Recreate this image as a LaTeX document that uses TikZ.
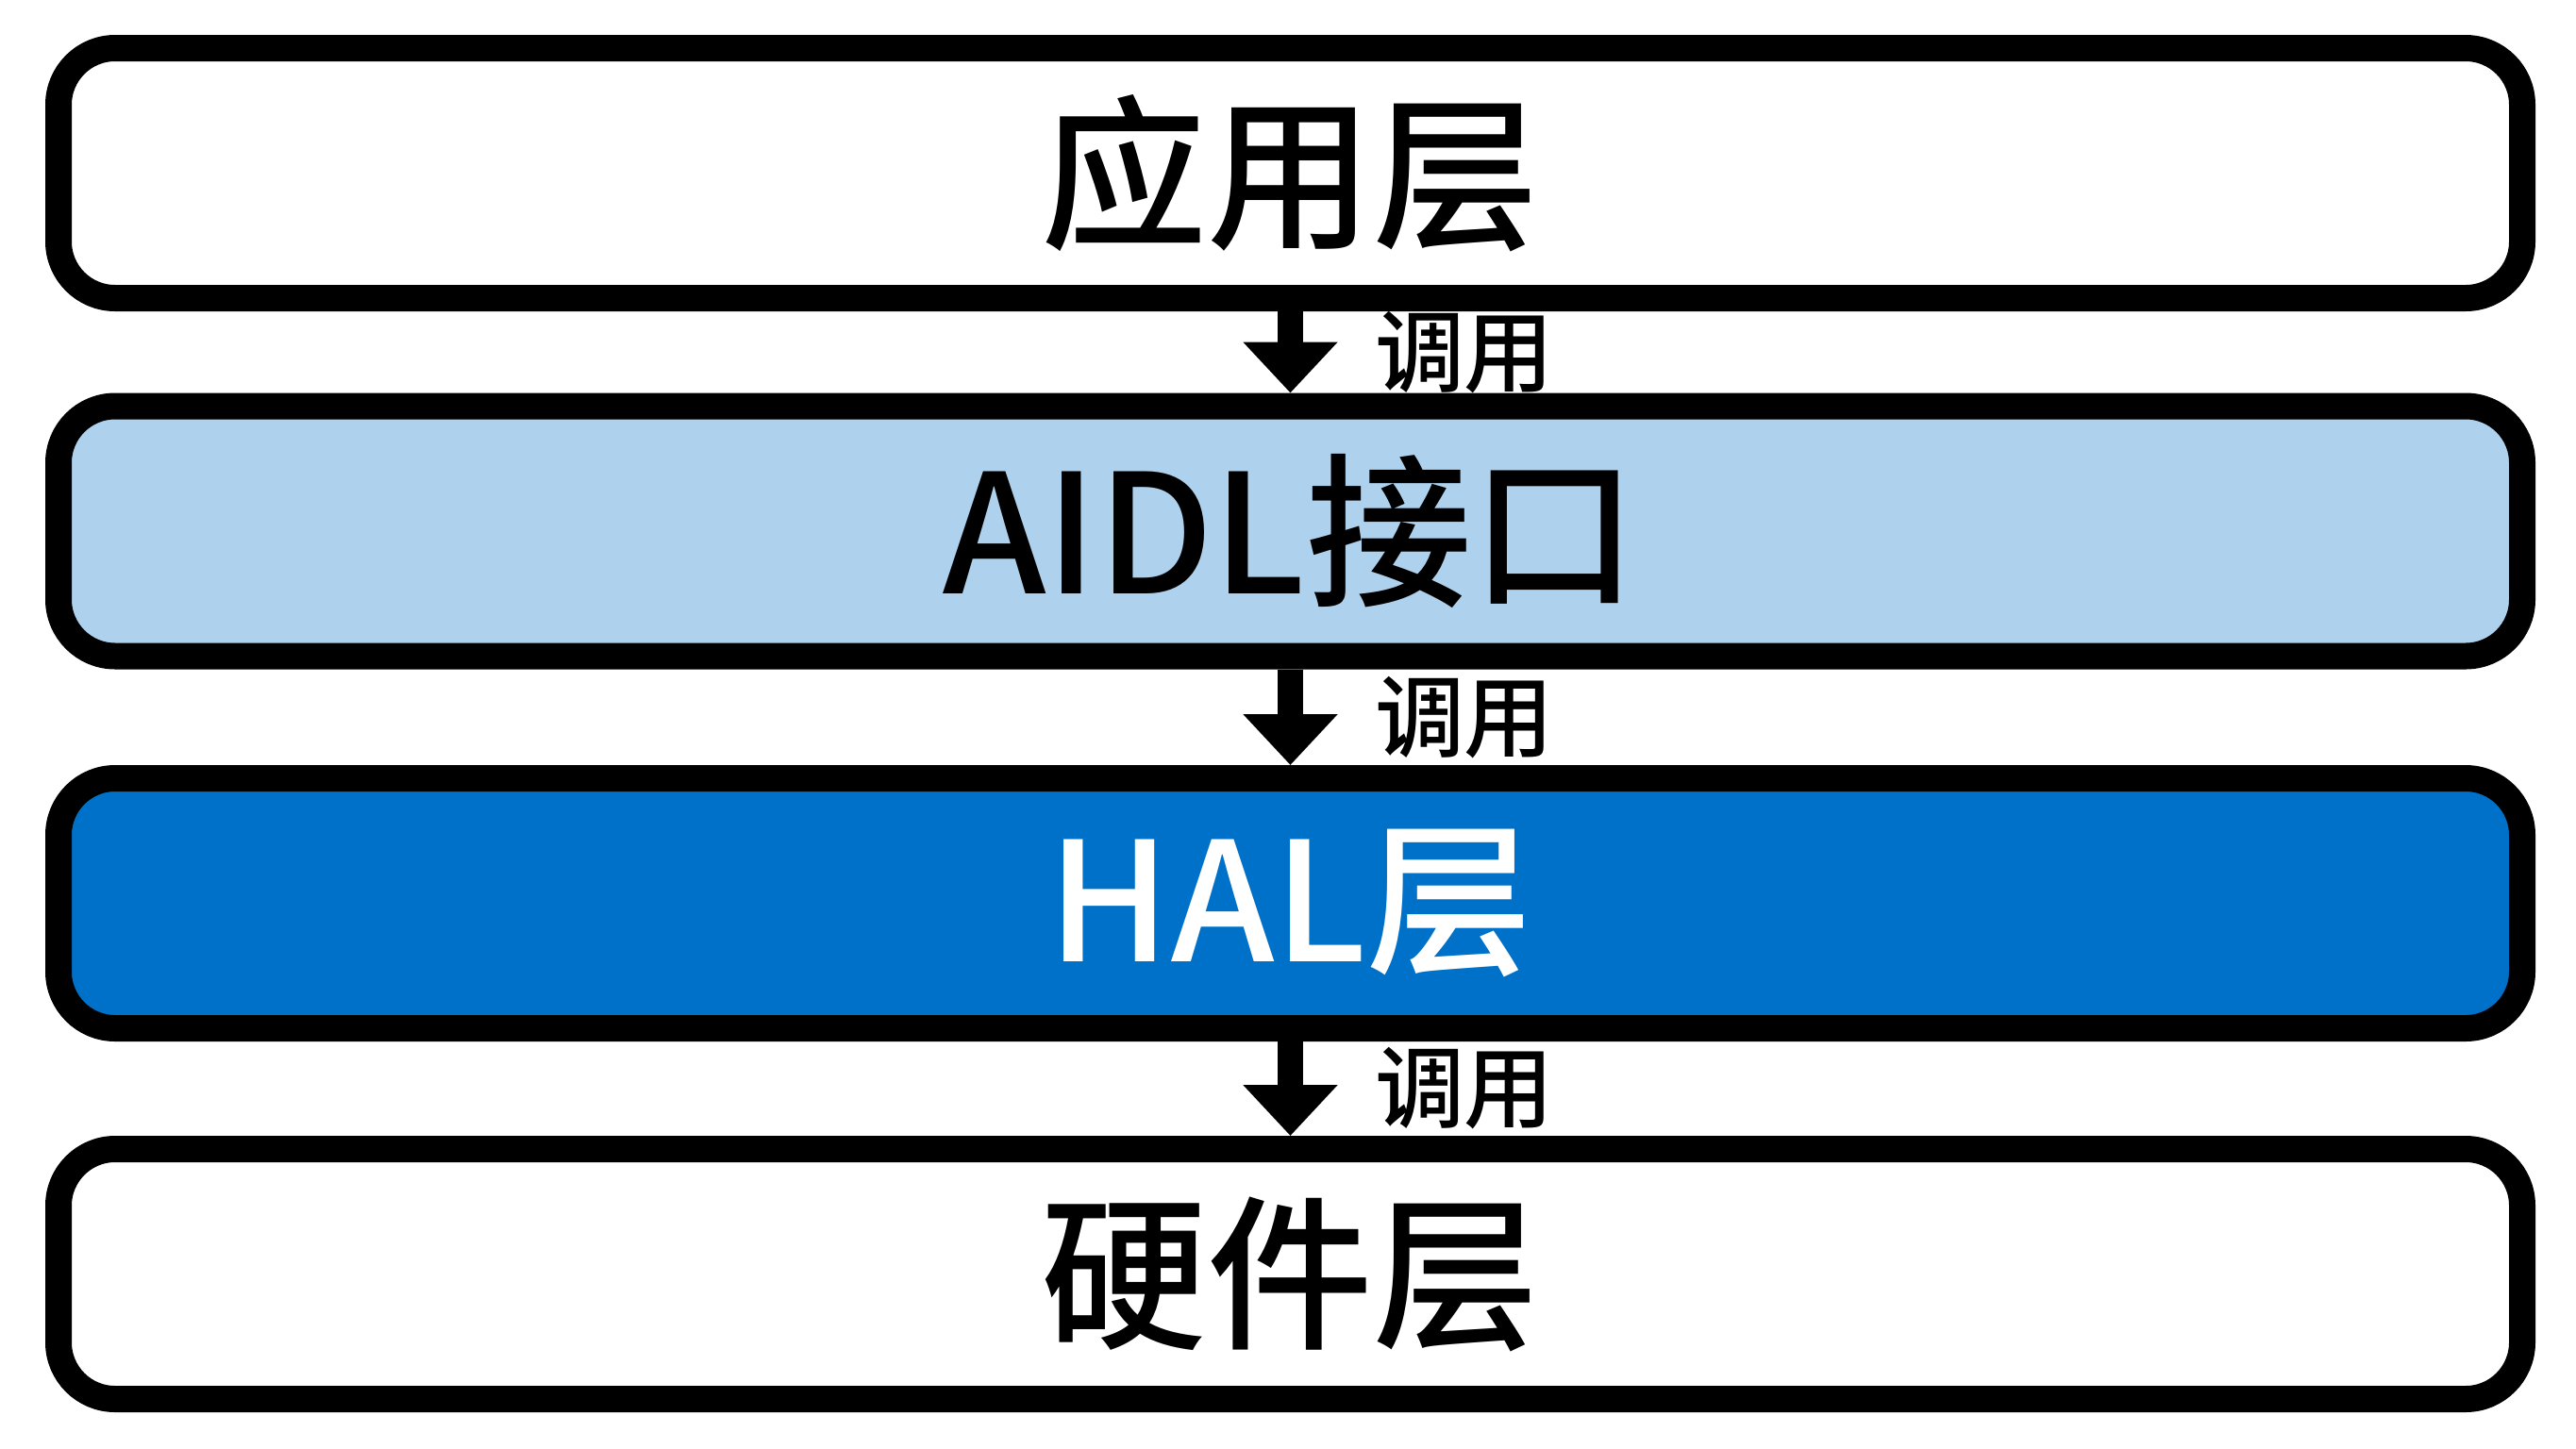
\documentclass[tikz,border=0pt]{standalone}
\usepackage{fontspec}
\setmainfont{Noto Sans CJK SC}[BoldFont={Noto Sans CJK SC Medium}]
\usetikzlibrary{arrows.meta}
\definecolor{aidlblue}{RGB}{174,210,238}
\definecolor{halblue}{RGB}{0,113,200}

\begin{document}
\begin{tikzpicture}[
    layer/.style={draw=black, line width=0.28cm, rounded corners=0.6cm,
      minimum width=26.11cm, minimum height=2.65cm, inner sep=0pt,
      font=\fontsize{50}{60}\selectfont\bfseries},
    callarrow/.style={line width=0.27cm, -{Triangle[width=0.97cm,length=0.54cm]}},
    calllabel/.style={anchor=west, xshift=0.76cm, inner sep=0pt,
      font=\fontsize{27}{30}\selectfont\bfseries}
  ]
  \useasboundingbox (0,0) rectangle (27.3,-15.35);

  \node[layer, fill=white] (app) at (13.675,-1.835) {应用层};
  \node[layer, fill=aidlblue] (aidl) at (13.675,-5.63) {AIDL接口};
  \node[layer, fill=halblue, text=white] (hal) at (13.675,-9.575) {HAL层};
  \node[layer, fill=white] (hw) at (13.675,-13.505) {硬件层};

  \draw[callarrow] (app) -- node[calllabel] {调用} (aidl);
  \draw[callarrow] (aidl) -- node[calllabel] {调用} (hal);
  \draw[callarrow] (hal) -- node[calllabel] {调用} (hw);
\end{tikzpicture}
\end{document}
